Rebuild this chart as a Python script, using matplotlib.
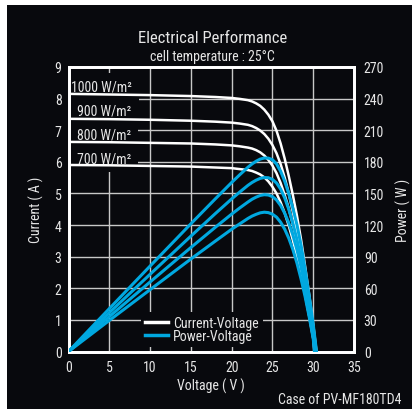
import matplotlib

matplotlib.use("Agg")
import matplotlib.pyplot as plt
from matplotlib.lines import Line2D
from matplotlib.patches import Rectangle

BG_COLOR = "#08090d"
TEXT_COLOR = "#e6e6e6"
GRID_COLOR = "#c8c8c8"
CURRENT_COLOR = "#ffffff"
POWER_COLOR = "#00a8e0"

plt.rcParams["font.family"] = ["Roboto Condensed", "Roboto", "DejaVu Sans"]

# shared voltage grid (V); each curve adds its own open-circuit voltage at the end
VOLTS = [0, 5, 10, 15, 18, 20, 21, 22, 22.5, 23, 23.5, 24, 24.5, 25, 25.5,
         26, 26.5, 27, 27.5, 28, 28.5, 29, 29.5, 30]

IRRADIANCE = ["1000", "900", "800", "700"]
VOC = [30.4, 30.3, 30.2, 30.15]

current_1000 = [8.15, 8.13, 8.11, 8.08, 8.05, 8.02, 7.99, 7.95, 7.91, 7.85, 7.77, 7.65,
                7.49, 7.28, 6.98, 6.58, 6.10, 5.55, 4.95, 4.30, 3.55, 2.70, 1.80, 0.85, 0]
current_900 = [7.36, 7.35, 7.33, 7.30, 7.27, 7.24, 7.21, 7.17, 7.13, 7.07, 6.99, 6.88,
               6.73, 6.53, 6.27, 5.93, 5.50, 5.00, 4.42, 3.80, 3.10, 2.35, 1.55, 0.70, 0]
current_800 = [6.63, 6.62, 6.60, 6.58, 6.55, 6.52, 6.49, 6.45, 6.42, 6.37, 6.30, 6.20,
               6.06, 5.88, 5.64, 5.33, 4.95, 4.52, 4.02, 3.45, 2.82, 2.12, 1.38, 0.50, 0]
current_700 = [5.90, 5.89, 5.87, 5.85, 5.82, 5.80, 5.77, 5.74, 5.71, 5.66, 5.60, 5.51,
               5.38, 5.21, 5.00, 4.72, 4.38, 3.98, 3.52, 3.00, 2.42, 1.80, 1.12, 0.40, 0]

power_1000 = [0, 40.7, 81.1, 121.2, 144.9, 160.4, 167.8, 174.9, 178.0, 180.6, 182.6, 183.6,
              183.5, 182.0, 178.0, 171.1, 161.7, 149.9, 136.1, 120.4, 101.2, 78.3, 53.1, 25.5, 0]
power_900 = [0, 36.8, 73.3, 109.5, 130.9, 144.8, 151.4, 157.7, 160.4, 162.6, 164.3, 165.1,
             164.9, 163.3, 159.9, 154.2, 145.8, 135.0, 121.6, 106.4, 88.4, 68.2, 45.7, 21.0, 0]
power_800 = [0, 33.1, 66.0, 98.7, 117.9, 130.4, 136.3, 141.9, 144.5, 146.5, 148.1, 148.8,
             148.5, 147.0, 143.8, 138.6, 131.2, 122.0, 110.6, 96.6, 80.4, 61.5, 40.7, 15.0, 0]
power_700 = [0, 29.5, 58.7, 87.8, 104.8, 116.0, 121.2, 126.3, 128.5, 130.2, 131.6, 132.2,
             131.8, 130.3, 127.5, 122.7, 116.1, 107.5, 96.8, 84.0, 69.0, 52.2, 33.0, 12.0, 0]

CURRENTS = [current_1000, current_900, current_800, current_700]
POWERS = [power_1000, power_900, power_800, power_700]

X_TICKS = [0, 5, 10, 15, 20, 25, 30, 35]
I_TICKS = list(range(0, 10))
P_TICKS = list(range(0, 271, 30))

fig = plt.figure(figsize=(4.12, 4.10), dpi=100, facecolor="white")
fig.patches.append(Rectangle((7 / 412, 0), 1, 404 / 410, transform=fig.transFigure,
                             facecolor=BG_COLOR, edgecolor="none", zorder=-10))

ax = fig.add_axes([0.1663, 0.1402, 0.693, 0.694])
ax.set_facecolor(BG_COLOR)
ax.set_xlim(0, 35)
ax.set_ylim(0, 9)
ax.set_xticks(X_TICKS)
ax.set_yticks(I_TICKS)
ax.set_axisbelow(True)
ax.grid(True, color=GRID_COLOR, linewidth=1.0)

for irr, voc, cur in zip(IRRADIANCE, VOC, CURRENTS):
    ax.plot(VOLTS + [voc], cur, color=CURRENT_COLOR, linewidth=1.8, zorder=3,
            solid_capstyle="butt")

# irradiance labels sit on black boxes that hide the grid
label_y = [8.37, 7.62, 6.88, 6.12]
label_x = [0.35, 1.05, 1.05, 1.05]
for irr, lx, ly in zip(IRRADIANCE, label_x, label_y):
    ax.text(lx, ly, f"{irr} W/m²", color=TEXT_COLOR, fontsize=10, va="center",
            ha="left", zorder=2.5,
            bbox=dict(facecolor=BG_COLOR, edgecolor="none", pad=5))

ax2 = ax.twinx()
ax2.set_ylim(0, 270)
ax2.set_yticks(P_TICKS)
for voc, pw in zip(VOC, POWERS):
    ax2.plot(VOLTS + [voc], pw, color=POWER_COLOR, linewidth=2.2, zorder=3)

for a in (ax, ax2):
    a.tick_params(colors=TEXT_COLOR, labelsize=10, length=0)
    for spine in a.spines.values():
        spine.set_color("white")
        spine.set_linewidth(2)
ax.tick_params(axis="x", pad=6)
ax.tick_params(axis="y", pad=5)
ax2.tick_params(axis="y", pad=7)

ax.set_xlabel("Voltage ( V )", color=TEXT_COLOR, fontsize=10, labelpad=3)
ax.set_ylabel("Current ( A )", color=TEXT_COLOR, fontsize=10, labelpad=8)
ax2.set_ylabel("Power ( W )", color=TEXT_COLOR, fontsize=10, labelpad=8)

handles = [Line2D([0], [0], color=CURRENT_COLOR, linewidth=2.5),
           Line2D([0], [0], color=POWER_COLOR, linewidth=2.5)]
leg = ax2.legend(handles, ["Current-Voltage", "Power-Voltage"], loc="upper left",
                 bbox_to_anchor=(0.254, 0.14), frameon=True, facecolor=BG_COLOR,
                 edgecolor="none", framealpha=1, fancybox=False, fontsize=10,
                 handlelength=1.65, handletextpad=0.36, labelspacing=-0.05,
                 borderpad=0.3, borderaxespad=0)
for t in leg.get_texts():
    t.set_color(TEXT_COLOR)

fig.text(0.515, 0.905, "Electrical Performance", color=TEXT_COLOR, fontsize=12,
         ha="center", va="center")
fig.text(0.515, 0.862, "cell temperature : 25°C", color=TEXT_COLOR, fontsize=10,
         ha="center", va="center")
fig.text(0.975, 0.025, "Case of PV-MF180TD4", color=TEXT_COLOR, fontsize=10,
         ha="right", va="center")

fig.savefig("out.png", dpi=100, facecolor="white")
plt.close(fig)
